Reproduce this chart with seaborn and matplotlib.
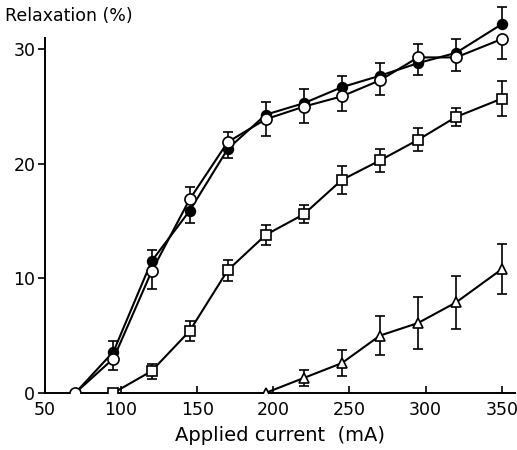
import numpy as np
import pandas as pd
import matplotlib
matplotlib.use("Agg")
import matplotlib.pyplot as plt
import seaborn as sns

# Applied current (mA) for each series
x_filled = [70, 95, 120, 145, 170, 195, 220, 245, 270, 295, 320, 350]
x_open = [70, 95, 120, 145, 170, 195, 220, 245, 270, 295, 320, 350]
x_square = [95, 120, 145, 170, 195, 220, 245, 270, 295, 320, 350]
x_tri = [195, 220, 245, 270, 295, 320, 350]

# Relaxation (%)
y_filled = [0, 3.6, 11.5, 15.9, 21.3, 24.3, 25.3, 26.7, 27.7, 28.8, 29.7, 32.2]
y_open = [0, 3.0, 10.6, 16.9, 21.9, 23.9, 25.0, 25.9, 27.3, 29.3, 29.3, 30.9]
y_square = [0, 1.9, 5.4, 10.7, 13.8, 15.6, 18.6, 20.3, 22.1, 24.1, 25.7]
y_tri = [0, 1.3, 2.6, 5.0, 6.1, 7.9, 10.8]

# error bars (lower, upper)
lo_filled = [0, 0, 0, 1.1, 0.8, 0, 0, 0, 0, 1.0, 0, 0]
up_filled = [0, 0.9, 1.0, 0, 0, 1.1, 1.2, 1.0, 1.1, 0, 1.2, 1.5]
lo_open = [0, 1.0, 1.5, 0, 0, 1.5, 1.4, 1.3, 1.3, 0, 1.2, 1.7]
up_open = [0, 0, 0, 1.1, 0.9, 0, 0, 0, 0, 1.2, 0, 0]
err_square = [0, 0.65, 0.9, 0.9, 0.85, 0.8, 1.25, 1.0, 1.0, 0.8, 1.5]
err_tri = [0, 0.7, 1.1, 1.7, 2.3, 2.3, 2.2]

sns.set_style("ticks", {"axes.edgecolor": "black", "text.color": "black",
                        "xtick.color": "black", "ytick.color": "black",
                        "axes.labelcolor": "black"})
plt.rcParams["font.family"] = ["DejaVu Sans"]

fig = plt.figure(figsize=(5.17, 4.5), dpi=100)
# y axis reaches to 34 so the top points are not clipped; spine stops at 31
ax = fig.add_axes([0.087, 0.127, 0.91, 0.865])

series = [
    (x_filled, y_filled, [lo_filled, up_filled], "o", "black", 7),
    (x_open, y_open, [lo_open, up_open], "o", "white", 8),
    (x_square, y_square, err_square, "s", "white", 6.5),
    (x_tri, y_tri, err_tri, "^", "white", 7),
]

for xs, ys, err, mk, fc, ms in series:
    ax.errorbar(xs, ys, yerr=err, fmt="none", ecolor="black", elinewidth=1.2,
                capsize=3.5, capthick=1.2, zorder=2)
    df = pd.DataFrame({"x": xs, "y": ys})
    sns.lineplot(data=df, x="x", y="y", ax=ax, color="black", linewidth=1.5,
                 marker=mk, markersize=ms, markerfacecolor=fc,
                 markeredgecolor="black", markeredgewidth=1.2, zorder=3)

ax.set_xlim(50, 359)
ax.set_ylim(0, 34)
ax.set_xticks([50, 100, 150, 200, 250, 300, 350])
ax.set_yticks([0, 10, 20, 30])
ax.tick_params(axis="x", direction="in", length=5, width=1.2, labelsize=12.5, pad=6)
ax.tick_params(axis="y", direction="out", length=5, width=1.2, labelsize=12.5, pad=2)
ax.set_xlabel("Applied current  (mA)", fontsize=14, labelpad=5)
ax.set_ylabel("")
fig.text(0.01, 0.985, "Relaxation (%)", fontsize=12.5, ha="left", va="top")
for s in ["left", "bottom"]:
    ax.spines[s].set_linewidth(1.4)
sns.despine(ax=ax)
ax.spines["left"].set_bounds(0, 31)

fig.savefig("out.png", dpi=100)
